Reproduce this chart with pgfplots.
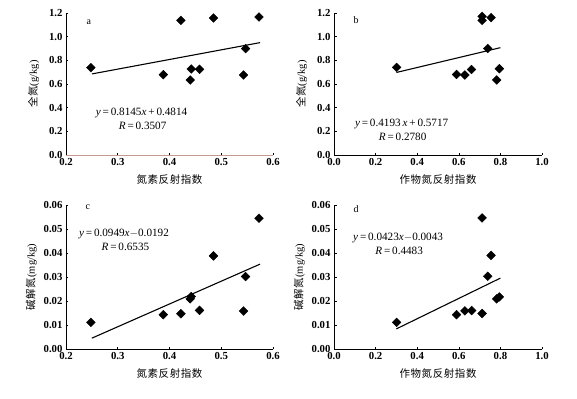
\documentclass[border=0pt]{standalone}
\usepackage{pgfplots}
\pgfplotsset{compat=1.18}
\usepackage{fontspec}
\setmainfont{Liberation Serif}
\newfontfamily\cjk{Noto Sans CJK SC}[LetterSpace=6]
\definecolor{axred}{HTML}{C49A90}

\pgfplotstableread{
x y
0.248 0.738
0.388 0.679
0.422 1.138
0.440 0.634
0.442 0.727
0.458 0.724
0.485 1.158
0.543 0.676
0.547 0.899
0.573 1.166
}\tabA
\pgfplotstableread{
x y
0.301 0.740
0.589 0.681
0.629 0.676
0.661 0.723
0.712 1.172
0.712 1.138
0.755 1.161
0.739 0.900
0.782 0.634
0.795 0.729
}\tabB
\pgfplotstableread{
x y
0.248 0.0111
0.388 0.0143
0.422 0.0147
0.440 0.0209
0.442 0.0219
0.458 0.0161
0.485 0.0388
0.543 0.0158
0.547 0.0302
0.573 0.0545
}\tabC
\pgfplotstableread{
x y
0.301 0.0111
0.589 0.0143
0.629 0.0159
0.662 0.0160
0.712 0.0546
0.712 0.0148
0.755 0.0390
0.739 0.0303
0.782 0.0209
0.795 0.0217
}\tabD

\tikzset{eq/.style={font=\fontsize{11.2}{12}\selectfont}}
\pgfplotsset{
  panel/.style={
    scale only axis,
    anchor=south west,
    axis lines=left,
    axis line style={-, line width=0.7pt},
    tick align=inside,
    major tick length=2.5pt,
    tick style={line width=0.6pt, black},
    scaled ticks=false,
    every tick label/.append style={font=\fontsize{10.8}{12}\selectfont\bfseries},
    /pgf/number format/assume math mode=true,
    /pgf/number format/fixed,
    /pgf/number format/fixed zerofill,
    label style={font=\fontsize{10.5}{12}\selectfont},
    xlabel style={yshift=-2pt},
    clip=false,
  },
  pts/.style={only marks, mark=square*, mark size=3.1bp, mark options={rotate=45, fill=black, draw=black}},
  fit/.style={black, line width=1.1pt, no marks},
}

\begin{document}
\begin{tikzpicture}[x=1bp,y=1bp]
\useasboundingbox (0,0) rectangle (577,398);

% panel a
\begin{axis}[panel, at={(66bp,243bp)}, width=207bp, height=142bp,
  xmin=0.2, xmax=0.6, ymin=0, ymax=1.2,
  xtick={0.2,0.3,0.4,0.5,0.6}, ytick={0,0.2,...,1.2},
  xticklabel style={/pgf/number format/precision=1},
  yticklabel style={/pgf/number format/precision=1},
  x axis line style={draw=axred},
  ylabel style={yshift=3pt},
  xlabel={\cjk 氮素反射指数}, ylabel={\cjk 全氮\normalfont(g/kg)}]
\addplot[pts] table[x=x,y=y]{\tabA};
\addplot[fit] coordinates {(0.25,0.6850) (0.575,0.9497)};
\node[font=\fontsize{10}{12}\selectfont] at (rel axis cs:0.11,0.937) {a};
\node[eq] at (rel axis cs:0.365,0.296) {\textit{y}\,=\,0.8145\textit{x}\,+\,0.4814};
\node[eq] at (rel axis cs:0.37,0.204) {\textit{R}\,=\,0.3507};
\end{axis}

% panel b
\begin{axis}[panel, at={(334bp,243bp)}, width=208bp, height=142bp,
  xmin=0, xmax=1, ymin=0, ymax=1.2,
  xtick={0,0.2,...,1.0}, ytick={0,0.2,...,1.2},
  xticklabel style={/pgf/number format/precision=1},
  yticklabel style={/pgf/number format/precision=1},
  ylabel style={yshift=3pt},
  xlabel={\cjk 作物氮反射指数}, ylabel={\cjk 全氮\normalfont(g/kg)}]
\addplot[pts] table[x=x,y=y]{\tabB};
\addplot[fit] coordinates {(0.30,0.6975) (0.80,0.9071)};
\node[font=\fontsize{10}{12}\selectfont] at (rel axis cs:0.106,0.95) {b};
\node[eq] at (rel axis cs:0.325,0.218) {\textit{y}\,=\,0.4193\,\textit{x}\,+\,0.5717};
\node[eq] at (rel axis cs:0.33,0.127) {\textit{R}\,=\,0.2780};
\end{axis}

% panel c
\begin{axis}[panel, at={(66bp,49bp)}, width=207bp, height=144bp,
  xmin=0.2, xmax=0.6, ymin=0, ymax=0.06,
  xtick={0.2,0.3,0.4,0.5,0.6}, ytick={0,0.01,0.02,0.03,0.04,0.05,0.06},
  xticklabel style={/pgf/number format/precision=1},
  yticklabel style={/pgf/number format/precision=2},
  xlabel={\cjk 氮素反射指数}, ylabel={\cjk 碱解氮\normalfont(mg/kg)}]
\addplot[pts] table[x=x,y=y]{\tabC};
\addplot[fit] coordinates {(0.25,0.004525) (0.575,0.03537)};
\node[font=\fontsize{10}{12}\selectfont] at (rel axis cs:0.106,0.985) {c};
\node[eq] at (rel axis cs:0.28,0.799) {\textit{y}\,=\,0.0949\textit{x}$-$0.0192};
\node[eq] at (rel axis cs:0.287,0.708) {\textit{R}\,=\,0.6535};
\end{axis}

% panel d
\begin{axis}[panel, at={(334bp,49bp)}, width=208bp, height=144bp,
  xmin=0, xmax=1, ymin=0, ymax=0.06,
  xtick={0,0.2,...,1.0}, ytick={0,0.01,0.02,0.03,0.04,0.05,0.06},
  xticklabel style={/pgf/number format/precision=1},
  yticklabel style={/pgf/number format/precision=2},
  xlabel={\cjk 作物氮反射指数}, ylabel={\cjk 碱解氮\normalfont(mg/kg)}]
\addplot[pts] table[x=x,y=y]{\tabD};
\addplot[fit] coordinates {(0.30,0.00839) (0.80,0.02954)};
\node[font=\fontsize{10}{12}\selectfont] at (rel axis cs:0.106,0.97) {d};
\node[eq] at (rel axis cs:0.308,0.771) {\textit{y}\,=\,0.0423\textit{x}$-$0.0043};
\node[eq] at (rel axis cs:0.313,0.681) {\textit{R}\,=\,0.4483};
\end{axis}
\end{tikzpicture}
\end{document}
